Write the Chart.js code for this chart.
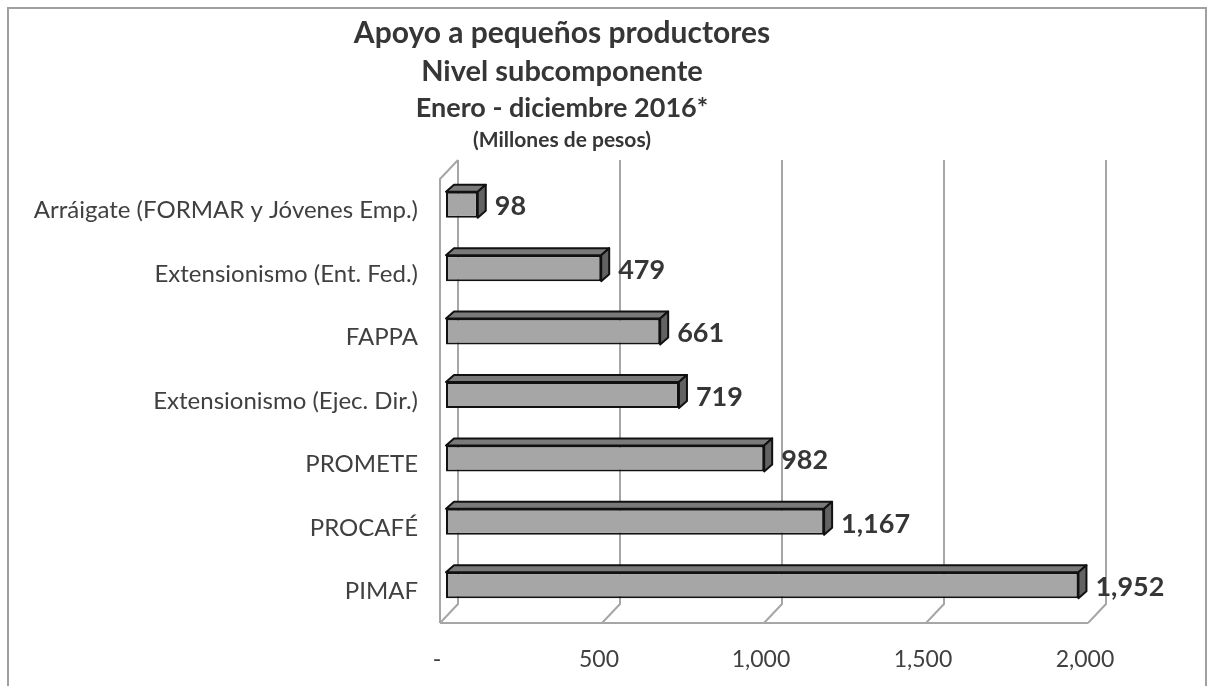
<!DOCTYPE html>
<html>
<head>
<meta charset="utf-8">
<script src="https://cdn.jsdelivr.net/npm/chart.js@4"></script>
<style>
  html, body { margin: 0; padding: 0; background: #fff; }
  #wrap { position: relative; width: 1209px; height: 686px; overflow: hidden; }
  #frame { position: absolute; left: 7px; top: 7px; width: 1200px; height: 700px; border: 2px solid #a0a0a0; box-sizing: border-box; }
  canvas { position: absolute; left: 0; top: 0; }
  .t { position: absolute; left: 0; width: 1124px; text-align: center; font-family: Lato, "Open Sans", sans-serif; font-weight: bold; color: #363636; white-space: nowrap; }
</style>
</head>
<body>
<div id="wrap">
  <div id="frame"></div>
  <canvas id="c" width="1209" height="686"></canvas>
  <div class="t" style="top:13px;font-size:30px;">Apoyo a pequeños productores</div>
  <div class="t" style="top:52px;font-size:29px;">Nivel subcomponente</div>
  <div class="t" style="top:90px;font-size:27px;">Enero - diciembre 2016*</div>
  <div class="t" style="top:126px;font-size:21px;">(Millones de pesos)</div>
</div>
<script>
const categories = [
  "Arráigate (FORMAR y Jóvenes Emp.)",
  "Extensionismo (Ent. Fed.)",
  "FAPPA",
  "Extensionismo (Ejec. Dir.)",
  "PROMETE",
  "PROCAFÉ",
  "PIMAF"
];
const values = [98, 479, 661, 719, 982, 1167, 1952];
const xTicks = [0, 500, 1000, 1500, 2000];

const FONT = 'Lato, "Open Sans", sans-serif';
// depth offsets relative to bar front plane
const FLOOR_DX = -6, FLOOR_DY = 6, BACK_DX = 12, BACK_DY = -13;
const BAR_DX = 8, BAR_DY = -7;
const GRID = '#a6a6a6';

const wallsPlugin = {
  id: 'walls',
  beforeDatasetsDraw(chart) {
    const ctx = chart.ctx, x = chart.scales.x, a = chart.chartArea;
    ctx.save();
    ctx.strokeStyle = GRID;
    ctx.lineWidth = 2;
    ctx.lineCap = 'butt';
    const x0 = x.getPixelForValue(0);
    const xMax = x.getPixelForValue(2000);
    ctx.beginPath();
    ctx.moveTo(x0 + FLOOR_DX, a.bottom + FLOOR_DY);
    ctx.lineTo(xMax + FLOOR_DX, a.bottom + FLOOR_DY);
    ctx.stroke();
    ctx.beginPath();
    ctx.moveTo(x0 + FLOOR_DX, a.bottom + FLOOR_DY);
    ctx.lineTo(x0 + FLOOR_DX, a.top + FLOOR_DY);
    ctx.lineTo(x0 + BACK_DX, a.top + BACK_DY);
    ctx.stroke();
    xTicks.forEach(v => {
      const px = x.getPixelForValue(v);
      ctx.beginPath();
      ctx.moveTo(px + BACK_DX, a.top + BACK_DY);
      ctx.lineTo(px + BACK_DX, a.bottom + BACK_DY);
      ctx.lineTo(px + FLOOR_DX, a.bottom + FLOOR_DY);
      ctx.stroke();
    });
    ctx.restore();
  },
  afterDatasetsDraw(chart) {
    const ctx = chart.ctx;
    const meta = chart.getDatasetMeta(0);
    ctx.save();
    ctx.strokeStyle = '#111';
    ctx.lineWidth = 2;
    ctx.lineJoin = 'round';
    meta.data.forEach((bar, i) => {
      const p = bar.getProps(['x', 'y', 'base', 'height'], true);
      const x0 = p.base, x1 = p.x;
      const yT = p.y - p.height / 2, yB = p.y + p.height / 2;
      ctx.beginPath();
      ctx.moveTo(x0, yT);
      ctx.lineTo(x0 + BAR_DX, yT + BAR_DY);
      ctx.lineTo(x1 + BAR_DX, yT + BAR_DY);
      ctx.lineTo(x1, yT);
      ctx.closePath();
      ctx.fillStyle = '#7a7a7a';
      ctx.fill();
      ctx.stroke();
      ctx.beginPath();
      ctx.moveTo(x1, yT);
      ctx.lineTo(x1 + BAR_DX, yT + BAR_DY);
      ctx.lineTo(x1 + BAR_DX, yB + BAR_DY);
      ctx.lineTo(x1, yB);
      ctx.closePath();
      ctx.fillStyle = '#626262';
      ctx.fill();
      ctx.stroke();
      ctx.fillStyle = '#363636';
      ctx.font = 'bold 27px ' + FONT;
      ctx.textAlign = 'left';
      ctx.textBaseline = 'middle';
      ctx.fillText(values[i].toLocaleString('en-US'), x1 + BAR_DX + 9, p.y + 2);
    });
    ctx.restore();
  }
};

new Chart(document.getElementById('c'), {
  type: 'bar',
  data: {
    labels: categories,
    datasets: [{
      data: values,
      backgroundColor: '#a6a6a6',
      borderColor: '#111',
      borderWidth: 2,
      borderSkipped: false,
      barPercentage: 0.41,
      categoryPercentage: 1
    }]
  },
  options: {
    indexAxis: 'y',
    responsive: false,
    animation: false,
    devicePixelRatio: 1,
    layout: { padding: { top: 173, right: 115, bottom: 0, left: 0 } },
    plugins: { legend: { display: false }, title: { display: false }, tooltip: { enabled: false } },
    scales: {
      x: {
        min: 0, max: 2000,
        afterBuildTicks(s) { s.ticks = xTicks.map(v => ({ value: v })); },
        afterFit(s) { s.height = 69; },
        grid: { display: false, drawTicks: false },
        border: { display: false },
        ticks: {
          padding: 29,
          labelOffset: -9,
          color: '#404040',
          font: { family: FONT, size: 23 },
          callback: v => v === 0 ? '-' : Number(v).toLocaleString('en-US')
        }
      },
      y: {
        afterFit(s) { s.width = 446; },
        grid: { display: false, drawTicks: false },
        border: { display: false },
        ticks: {
          padding: 28,
          labelOffset: 6,
          color: '#404040',
          font: { family: FONT, size: 24 }
        }
      }
    }
  },
  plugins: [wallsPlugin]
});
</script>
</body>
</html>
